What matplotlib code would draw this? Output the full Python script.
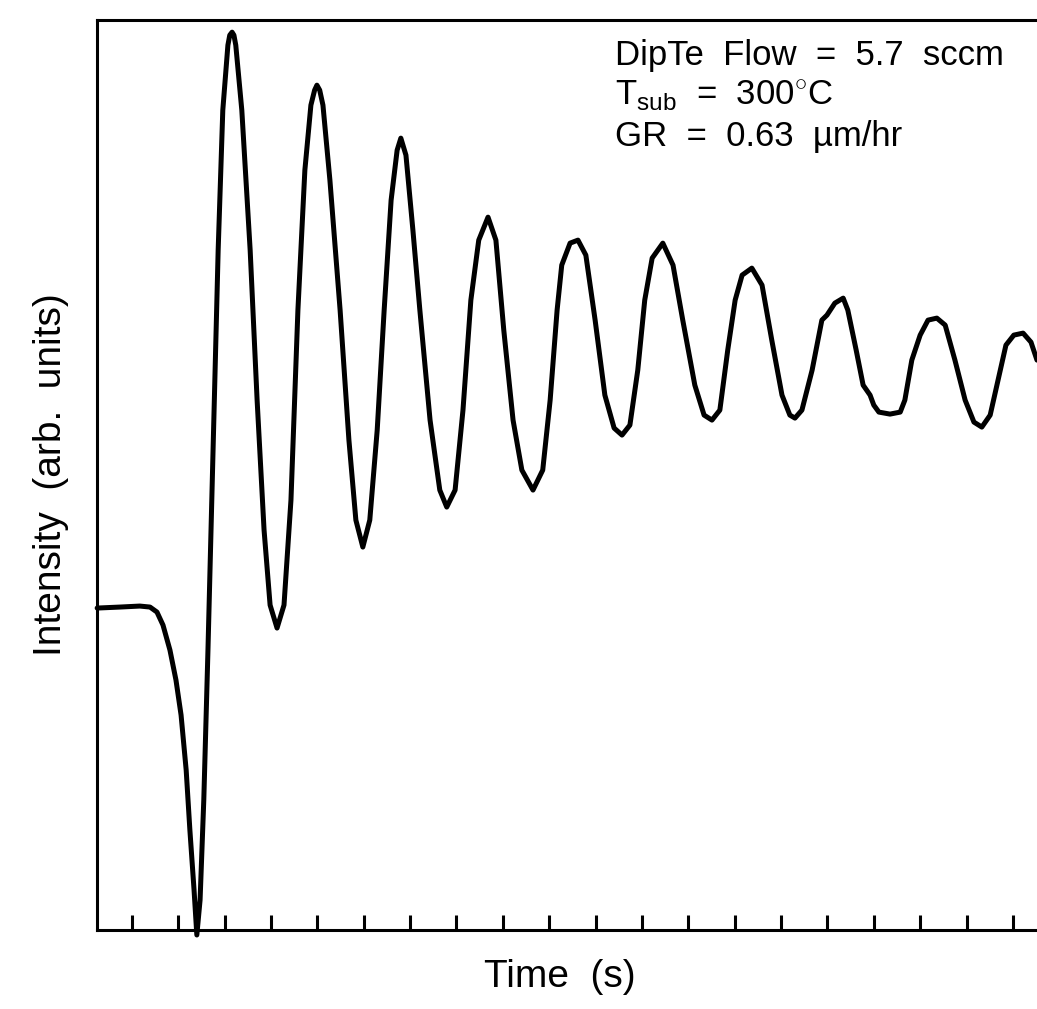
import matplotlib.pyplot as plt

plt.rcParams['font.family'] = ['Liberation Sans', 'DejaVu Sans']
plt.rcParams['mathtext.fontset'] = 'custom'
plt.rcParams['mathtext.rm'] = 'Liberation Sans'

# time in units of tick spacing, intensity in arb. units
time = [0.25, 0.74, 1.17, 1.39, 1.54, 1.67, 1.82, 1.95, 2.06, 2.17, 2.25, 2.34, 2.40,
        2.47, 2.55, 2.64, 2.75, 2.86, 2.96, 3.07, 3.11, 3.16, 3.20, 3.24, 3.37, 3.55, 3.70, 3.85,
        3.98, 4.13, 4.28, 4.43, 4.58, 4.73, 4.86, 4.94, 4.99, 5.05, 5.12, 5.27, 5.49, 5.68, 5.83,
        5.98, 6.13, 6.29, 6.44, 6.59, 6.72, 6.80, 6.91, 7.06, 7.21, 7.43, 7.64, 7.79,
        7.97, 8.14, 8.31, 8.48, 8.68, 8.85, 9.02, 9.22, 9.41, 9.65, 9.86, 10.02, 10.17,
        10.27, 10.45, 10.62, 10.79, 10.99, 11.20, 11.40, 11.57, 11.74, 11.91, 12.06,
        12.22, 12.45, 12.67, 12.88, 13.14, 13.34, 13.51, 13.68, 13.85, 14.01, 14.16,
        14.37, 14.59, 14.80, 15.02, 15.19, 15.30, 15.45, 15.67, 15.88, 15.99, 16.16,
        16.34, 16.44, 16.62, 16.77, 16.92, 17.00, 17.11, 17.35, 17.57, 17.67, 17.82,
        18.00, 18.17, 18.36, 18.54, 18.75, 18.97, 19.16, 19.33, 19.51, 19.68, 19.85,
        20.02, 20.22, 20.39, 20.52]
intensity = [3.22, 3.23, 3.24, 3.23, 3.18, 3.05, 2.80, 2.50, 2.15, 1.60, 1.00, 0.40, -0.05,
             0.30, 1.30, 2.80, 4.80, 6.80, 8.20, 8.85, 8.95, 8.98, 8.95, 8.85, 8.20, 6.80, 5.30, 4.00,
             3.25, 3.02, 3.25, 4.30, 6.20, 7.60, 8.25, 8.40, 8.45, 8.40, 8.25, 7.50, 6.20, 4.90, 4.10,
             3.83, 4.10, 5.00, 6.20, 7.30, 7.80, 7.92, 7.75, 7.00, 6.20, 5.10, 4.40, 4.23,
             4.40, 5.20, 6.30, 6.90, 7.13, 6.90, 6.00, 5.10, 4.60, 4.40, 4.60, 5.30, 6.20,
             6.65, 6.87, 6.90, 6.75, 6.10, 5.35, 5.02, 4.95, 5.05, 5.60, 6.30,
             6.72, 6.87, 6.65, 6.10, 5.45, 5.15, 5.10, 5.20, 5.80, 6.30, 6.55,
             6.62, 6.45, 5.90, 5.35, 5.15, 5.12, 5.20, 5.60, 6.10, 6.15, 6.27,
             6.32, 6.20, 5.80, 5.45, 5.35, 5.25, 5.18, 5.16, 5.18, 5.30, 5.70,
             5.95, 6.10, 6.12, 6.05, 5.70, 5.30, 5.08, 5.03, 5.15, 5.50, 5.85,
             5.95, 5.97, 5.88, 5.70]
tick_pos = list(range(1, 21))

fig = plt.figure(figsize=(10.37, 10.09), dpi=100)
ax = fig.add_axes([0.0935, 0.0783, 0.9065, 0.9017])

ax.plot(time, intensity, color='black', lw=3.6, clip_on=False,
        solid_capstyle='round', solid_joinstyle='round')

ax.set_xlim(0.246, 20.52)
ax.set_ylim(0, 9.1)
ax.set_xticks(tick_pos)
ax.set_xticklabels([])
ax.set_yticks([])
ax.tick_params(axis='x', direction='in', length=11, width=2.2, color='black')
ax.spines['right'].set_visible(False)
for s in ['left', 'top', 'bottom']:
    ax.spines[s].set_linewidth(2.2)

ax.set_xlabel('Time  (s)', fontsize=28)
ax.xaxis.set_label_coords(0.492, -0.032, transform=ax.transAxes)
ax.xaxis.label.set_va('top')
ax.set_ylabel('Intensity  (arb.  units)', fontsize=28, labelpad=20)

fig.text(0.593, 0.945, 'DipTe  Flow  =  5.7  sccm', fontsize=25, va='center')
fig.text(0.593, 0.904, r'T$_{\mathregular{sub}}$  =  300$^{\circ}$C', fontsize=25, va='center')
fig.text(0.593, 0.865, 'GR  =  0.63  µm/hr', fontsize=25, va='center')

fig.savefig('out.png', dpi=100)
